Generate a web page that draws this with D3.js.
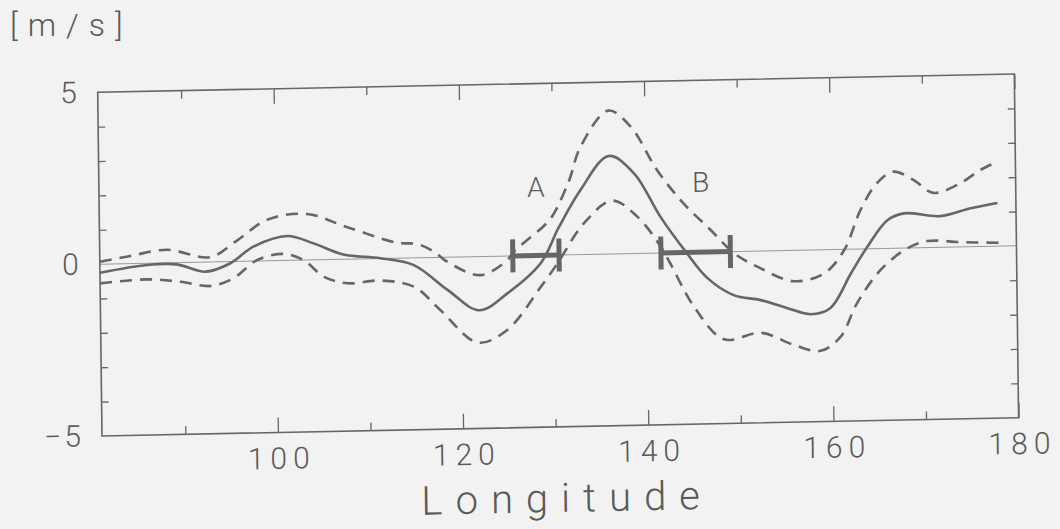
<!DOCTYPE html>
<html>
<head>
<meta charset="utf-8">
<script src="https://cdn.jsdelivr.net/npm/d3@7"></script>
<style>
    body { margin: 0; background: #f2f2f2; }
    svg { display: block; }
    text { font-family: Roboto, "DejaVu Sans", sans-serif; font-weight: 300; fill: #5a5a5a; }
</style>
</head>
<body>
<svg id="chart" width="1060" height="529"></svg>
<script>
// longitude (deg E) / velocity [m/s]
var meanLon = [81, 86.1, 89.3, 92.4, 95.1, 97.6, 101.3, 104.1, 107.3, 111.3, 114.9, 118.5, 121.9, 125, 128.6, 130.6, 133, 136.1, 138.8, 141.6, 144.4, 146.6, 149.4, 152.3, 155.2, 157.7, 159.8, 162.1, 163.9, 166.1, 167.9, 171.8, 175.1, 178];
var meanVal = [-0.25, -0.05, -0.05, -0.28, -0.05, 0.42, 0.71, 0.48, 0.14, 0.01, -0.21, -0.95, -1.56, -1.08, -0.23, 0.8, 1.88, 2.85, 2.33, 1.05, -0.02, -0.76, -1.27, -1.43, -1.68, -1.87, -1.71, -0.7, 0.06, 0.82, 1.01, 0.91, 1.12, 1.26];

var upperLon = [81, 84.3, 88.3, 92.9, 95.8, 99.1, 103.4, 107.7, 113.1, 115.3, 117.1, 118.5, 122.1, 125, 125.7, 129.3, 130.1, 131.8, 133, 136.1, 138.5, 141.3, 144.1, 147, 149.5, 152.3, 155.9, 159.2, 161.4, 163.2, 165, 166.8, 169, 171.1, 174, 176.2, 178.1];
var upperVal = [0.07, 0.22, 0.38, 0.14, 0.6, 1.19, 1.34, 0.94, 0.45, 0.4, 0.17, -0.13, -0.54, -0.12, 0.12, 0.93, 1.21, 2.17, 3.1, 4.17, 3.69, 2.41, 1.43, 0.64, -0.05, -0.5, -0.9, -0.69, -0.02, 1.13, 1.9, 2.23, 1.97, 1.59, 1.85, 2.23, 2.46];

var lowerLon = [81, 86.1, 89.7, 92.9, 95.4, 98, 100.9, 103, 105.2, 107.7, 111.3, 114.9, 117.7, 121.7, 124.9, 128.6, 130.4, 133.3, 136.4, 139.1, 141.6, 142.6, 145.1, 148.3, 152.3, 155.9, 158.7, 160.9, 162.7, 165.3, 168.2, 170.4, 174, 178.1];
var lowerVal = [-0.56, -0.47, -0.56, -0.7, -0.49, 0.03, 0.19, 0.0, -0.5, -0.7, -0.64, -0.84, -1.53, -2.5, -2.15, -0.91, -0.25, 0.9, 1.55, 1.07, 0.18, -0.31, -1.58, -2.55, -2.38, -2.76, -2.94, -2.54, -1.58, -0.62, -0.01, 0.19, 0.14, 0.1];

// ranges marked A and B on the zero line
var rangeNames = ["A", "B"];
var rangeStart = [125.6, 141.6];
var rangeEnd = [130.6, 149.1];
var labelLon = [128.2, 146];
var labelVal = [2.0, 2.05];

var xMajor = [100, 120, 140, 160, 180];
var xMinor = [90, 110, 130, 150, 170];
var yTicks = [-4, -3, -2, -1, 1, 2, 3, 4];
var yLabels = [-5, 0, 5];

var W = 916.6, H = 343.7;
var ink = "#666";

var svg = d3.select("#chart");
svg.append("rect").attr("width", 1060).attr("height", 529).attr("fill", "#f2f2f2");

// the scanned figure is slightly skewed, so the plot sits in a tilted frame
var g = svg.append("g")
    .attr("transform", "matrix(1,-0.01997,0.0125,1,97.7,92.3)");

var x = d3.scaleLinear().domain([81, 180]).range([0, W]);
var y = d3.scaleLinear().domain([-5, 5]).range([H, 0]);

function zip(lons, vals)
{
    return lons.map(function (d, i) { return [d, vals[i]]; });
}

var line = d3.line()
    .x(function (d) { return x(d[0]); })
    .y(function (d) { return y(d[1]); })
    .curve(d3.curveCatmullRom.alpha(0.5));

// zero line
g.append("line")
    .attr("x1", 0).attr("x2", W)
    .attr("y1", y(0)).attr("y2", y(0))
    .attr("stroke", "#999").attr("stroke-width", 1);

// ticks
function styleAxis(sel)
{
    sel.select(".domain").remove();
    sel.selectAll(".tick line").attr("stroke", ink).attr("stroke-width", 1.3);
}

g.append("g").attr("transform", "translate(0," + H + ")")
    .call(d3.axisBottom(x).tickValues(xMajor).tickSize(-15).tickPadding(15).tickFormat(d3.format("d")))
    .call(styleAxis)
    .selectAll("text")
    .attr("font-size", 30).attr("letter-spacing", 6).attr("dx", 3)
    .attr("font-family", "Roboto, sans-serif").attr("fill", "#5a5a5a");

g.append("g").attr("transform", "translate(0," + H + ")")
    .call(d3.axisBottom(x).tickValues(xMinor).tickSize(-8).tickFormat(""))
    .call(styleAxis);

g.append("g")
    .call(d3.axisTop(x).tickValues(xMajor).tickSize(-15).tickFormat(""))
    .call(styleAxis);

g.append("g")
    .call(d3.axisTop(x).tickValues(xMinor).tickSize(-8).tickFormat(""))
    .call(styleAxis);

g.append("g")
    .call(d3.axisLeft(y).tickValues(yTicks).tickSize(-7).tickFormat(""))
    .call(styleAxis);

g.append("g").attr("transform", "translate(" + W + ",0)")
    .call(d3.axisRight(y).tickValues(yTicks).tickSize(-7).tickFormat(""))
    .call(styleAxis);

g.append("g")
    .call(d3.axisLeft(y).tickValues(yLabels).tickSize(0).tickPadding(21)
        .tickFormat(function (d) { return d < 0 ? "\u2212" + Math.abs(d) : d; }))
    .call(styleAxis)
    .selectAll("text")
    .attr("font-size", 30).attr("letter-spacing", 3).attr("dx", 3)
    .attr("font-family", "Roboto, sans-serif").attr("fill", "#5a5a5a");

// frame
g.append("rect")
    .attr("width", W).attr("height", H)
    .attr("fill", "none").attr("stroke", ink).attr("stroke-width", 1.6);

// curves
g.append("path")
    .attr("d", line(zip(upperLon, upperVal)))
    .attr("fill", "none").attr("stroke", ink).attr("stroke-width", 2.6)
    .attr("stroke-dasharray", "12,8");

g.append("path")
    .attr("d", line(zip(lowerLon, lowerVal)))
    .attr("fill", "none").attr("stroke", ink).attr("stroke-width", 2.6)
    .attr("stroke-dasharray", "12,8");

g.append("path")
    .attr("d", line(zip(meanLon, meanVal)))
    .attr("fill", "none").attr("stroke", ink).attr("stroke-width", 2.6);

// range bars
var bars = g.selectAll("g.range").data(rangeNames).enter().append("g").attr("class", "range");
bars.append("line")
    .attr("x1", function (d, i) { return x(rangeStart[i]); })
    .attr("x2", function (d, i) { return x(rangeEnd[i]); })
    .attr("y1", y(0)).attr("y2", y(0))
    .attr("stroke", ink).attr("stroke-width", 5);
bars.append("line")
    .attr("x1", function (d, i) { return x(rangeStart[i]); })
    .attr("x2", function (d, i) { return x(rangeStart[i]); })
    .attr("y1", y(0.48)).attr("y2", y(-0.48))
    .attr("stroke", ink).attr("stroke-width", 5);
bars.append("line")
    .attr("x1", function (d, i) { return x(rangeEnd[i]); })
    .attr("x2", function (d, i) { return x(rangeEnd[i]); })
    .attr("y1", y(0.48)).attr("y2", y(-0.48))
    .attr("stroke", ink).attr("stroke-width", 5);
bars.append("text")
    .attr("x", function (d, i) { return x(labelLon[i]); })
    .attr("y", function (d, i) { return y(labelVal[i]); })
    .attr("dy", "0.36em")
    .attr("text-anchor", "middle")
    .attr("font-size", 28)
    .text(function (d) { return d; });

// axis titles
g.append("text")
    .attr("x", W / 2 + 6).attr("y", H + 85)
    .attr("text-anchor", "middle")
    .attr("font-size", 40).attr("letter-spacing", 13)
    .text("Longitude");

svg.append("text")
    .attr("x", 10).attr("y", 36)
    .attr("font-size", 32).attr("letter-spacing", 10)
    .text("[m/s]");
</script>
</body>
</html>
